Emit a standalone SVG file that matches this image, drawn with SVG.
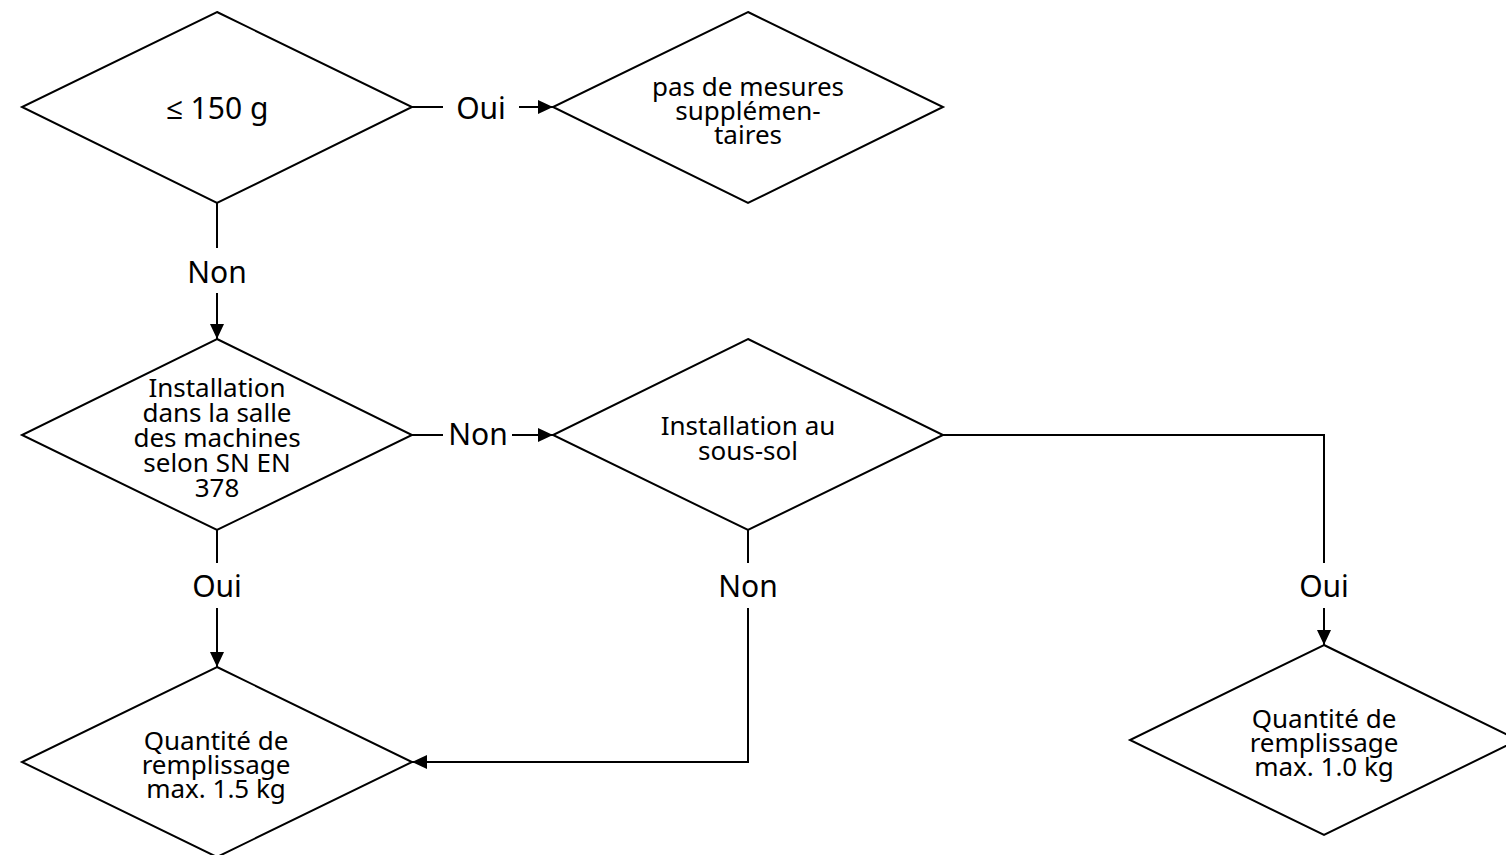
<svg xmlns="http://www.w3.org/2000/svg" width="1506" height="855" viewBox="0 0 1506 855">
<style>
.shape{fill:#ffffff;stroke:#000000;stroke-width:2;stroke-linejoin:miter}
.conn{fill:none;stroke:#000000;stroke-width:2}
.t{font-family:"Noto Sans","Open Sans","DejaVu Sans",sans-serif;font-size:26px;fill:#000000;text-anchor:middle}
.big{font-size:30px}
</style>
<defs>
<marker id="arr" markerUnits="userSpaceOnUse" markerWidth="16" markerHeight="16" refX="15" refY="7" orient="auto">
<path d="M0,0 L15,7 L0,14 z" fill="#000000"/>
</marker>
</defs>
<rect width="1506" height="855" fill="#ffffff"/>
<g id="connectors">
<path class="conn" d="M412,107 L443,107"/>
<path class="conn" d="M519,107 L553,107" marker-end="url(#arr)"/>
<text class="t big" x="481" y="119">Oui</text>
<path class="conn" d="M217,203 L217,248"/>
<path class="conn" d="M217,293 L217,339" marker-end="url(#arr)"/>
<text class="t big" x="217" y="283">Non</text>
<path class="conn" d="M412,435 L443,435"/>
<path class="conn" d="M512,435 L553,435" marker-end="url(#arr)"/>
<text class="t big" x="478" y="445">Non</text>
<path class="conn" d="M217,530 L217,563"/>
<path class="conn" d="M217,608 L217,667" marker-end="url(#arr)"/>
<text class="t big" x="217" y="597">Oui</text>
<path class="conn" d="M748,530 L748,563"/>
<path class="conn" d="M748,608 L748,762 L412,762" marker-end="url(#arr)"/>
<text class="t big" x="748" y="597">Non</text>
<path class="conn" d="M943,435 L1324,435 L1324,563"/>
<path class="conn" d="M1324,608 L1324,645" marker-end="url(#arr)"/>
<text class="t big" x="1324" y="597">Oui</text>
</g>
<g id="n1">
<polygon class="shape" points="217,12 412,107 217,203 22,107"/>
<text class="t big" x="217" y="119">≤ 150 g</text>
</g>
<g id="n2">
<polygon class="shape" points="748,12 943,107 748,203 553,107"/>
<text class="t" x="748" y="96">pas de mesures</text>
<text class="t" x="748" y="120">supplémen-</text>
<text class="t" x="748" y="144">taires</text>
</g>
<g id="n3">
<polygon class="shape" points="217,339 412,435 217,530 22,435"/>
<text class="t" x="217" y="397">Installation</text>
<text class="t" x="217" y="422">dans la salle</text>
<text class="t" x="217" y="447">des machines</text>
<text class="t" x="217" y="472">selon SN EN</text>
<text class="t" x="217" y="497">378</text>
</g>
<g id="n4">
<polygon class="shape" points="748,339 943,435 748,530 553,435"/>
<text class="t" x="748" y="435">Installation au</text>
<text class="t" x="748" y="460">sous-sol</text>
</g>
<g id="n5">
<polygon class="shape" points="217,667 412,762 217,857 22,762"/>
<text class="t" x="216" y="750">Quantité de</text>
<text class="t" x="216" y="774">remplissage</text>
<text class="t" x="216" y="798">max. 1.5 kg</text>
</g>
<g id="n6">
<polygon class="shape" points="1324,645 1518,740 1324,835 1130,740"/>
<text class="t" x="1324" y="728">Quantité de</text>
<text class="t" x="1324" y="752">remplissage</text>
<text class="t" x="1324" y="776">max. 1.0 kg</text>
</g>
</svg>
